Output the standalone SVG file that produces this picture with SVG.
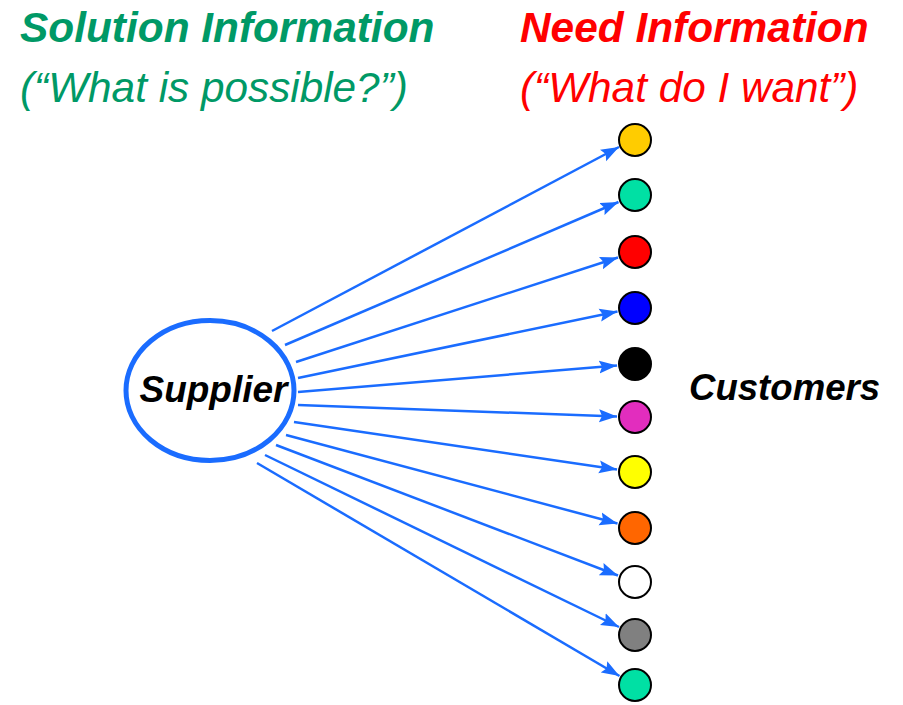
<svg xmlns="http://www.w3.org/2000/svg" width="903" height="705" viewBox="0 0 903 705">
<style>
.t{font-family:"Liberation Sans",Arial,sans-serif;font-style:italic}
.b{font-weight:bold}
.c{stroke:#000;stroke-width:2}
.ln{stroke:#1a6cff;stroke-width:2.5;fill:none;marker-end:url(#ah)}
</style>
<defs>
<marker id="ah" markerUnits="userSpaceOnUse" markerWidth="19" markerHeight="14" refX="18" refY="7" orient="auto">
<path d="M0,0.5 L18,7 L0,13.5 L3,7 Z" fill="#1a6cff"/>
</marker>
</defs>
<rect width="903" height="705" fill="#fff"/>
<g id="title-solution">
<text class="t b" x="20" y="42" font-size="42.4" fill="#009966">Solution Information</text>
<text class="t" x="20" y="102" font-size="42.3" fill="#009966">(“What is possible?”)</text>
</g>
<g id="title-need">
<text class="t b" x="520" y="42" font-size="42.4" fill="#ff0000">Need Information</text>
<text class="t" x="520" y="102" font-size="42.3" fill="#ff0000">(“What do I want”)</text>
</g>
<g id="connectors">
<line class="ln" x1="272" y1="331" x2="619" y2="147"/>
<line class="ln" x1="285" y1="345" x2="618.5" y2="202"/>
<line class="ln" x1="296" y1="362" x2="618" y2="257.5"/>
<line class="ln" x1="298" y1="378" x2="617.5" y2="311.5"/>
<line class="ln" x1="298" y1="392" x2="617" y2="365.5"/>
<line class="ln" x1="298" y1="405" x2="617" y2="416.5"/>
<line class="ln" x1="294" y1="422" x2="617" y2="469.5"/>
<line class="ln" x1="286" y1="435" x2="617.5" y2="523.5"/>
<line class="ln" x1="276" y1="445" x2="618" y2="575.5"/>
<line class="ln" x1="265" y1="455" x2="619" y2="627"/>
<line class="ln" x1="257" y1="463" x2="619.5" y2="676"/>
</g>
<g id="supplier">
<ellipse cx="210" cy="390.5" rx="84" ry="70" fill="#fff" stroke="#1a6cff" stroke-width="5"/>
<text class="t b" x="213.5" y="402" font-size="37" text-anchor="middle" fill="#000">Supplier</text>
</g>
<g id="customer-1"><circle class="c" cx="635" cy="140" r="16" fill="#ffcc00"/></g>
<g id="customer-2"><circle class="c" cx="635" cy="195" r="16" fill="#00e0a4"/></g>
<g id="customer-3"><circle class="c" cx="635" cy="252" r="16" fill="#ff0000"/></g>
<g id="customer-4"><circle class="c" cx="635" cy="308" r="16" fill="#0000ff"/></g>
<g id="customer-5"><circle class="c" cx="635" cy="364" r="16" fill="#000000"/></g>
<g id="customer-6"><circle class="c" cx="635" cy="417" r="16" fill="#e22dbe"/></g>
<g id="customer-7"><circle class="c" cx="635" cy="472" r="16" fill="#ffff00"/></g>
<g id="customer-8"><circle class="c" cx="635" cy="528" r="16" fill="#ff6600"/></g>
<g id="customer-9"><circle class="c" cx="635" cy="582" r="16" fill="#ffffff"/></g>
<g id="customer-10"><circle class="c" cx="635" cy="635" r="16" fill="#808080"/></g>
<g id="customer-11"><circle class="c" cx="635" cy="685" r="16" fill="#00e0a4"/></g>
<g id="customers-label">
<text class="t b" x="689" y="400" font-size="36.6" fill="#000">Customers</text>
</g>
</svg>
